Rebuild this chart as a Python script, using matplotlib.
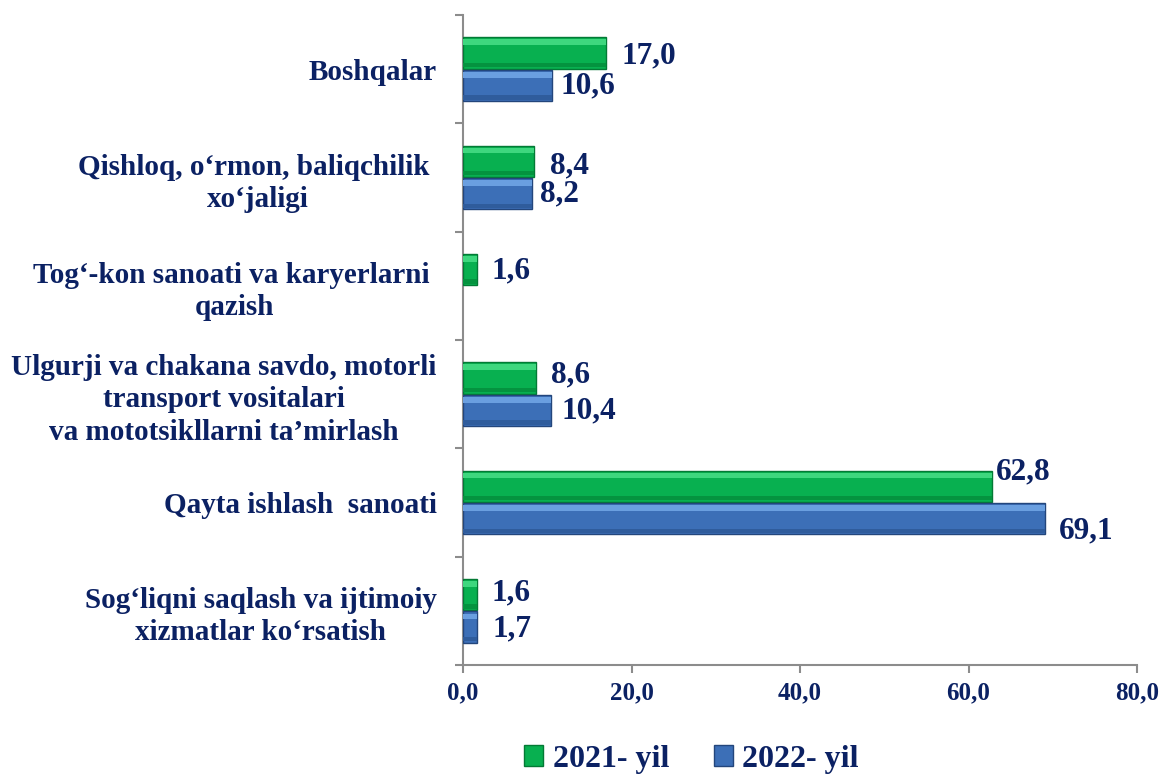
import numpy as np
import matplotlib
matplotlib.use("Agg")
import matplotlib.pyplot as plt
from matplotlib.patches import Patch

# data (bottom to top)
categories = [
    "Sog‘liqni saqlash va ijtimoiy\nxizmatlar ko‘rsatish",
    "Qayta ishlash  sanoati",
    "Ulgurji va chakana savdo, motorli\ntransport vositalari\nva mototsikllarni ta’mirlash",
    "Tog‘-kon sanoati va karyerlarni \nqazish",
    "Qishloq, o‘rmon, baliqchilik \nxo‘jaligi",
    "Boshqalar",
]
y2021 = [1.6, 62.8, 8.6, 1.6, 8.4, 17.0]
y2022 = [1.7, 69.1, 10.4, None, 8.2, 10.6]
series_names = ["2021- yil", "2022- yil"]
xticks = [0, 20, 40, 60, 80]

# style
navy = "#0B2163"
plt.rcParams["font.family"] = ["Liberation Serif", "DejaVu Serif"]
plt.rcParams["font.weight"] = "bold"

green = dict(main="#08B050", top="#3ED77E", bot="#04933F", edge="#037A35")
blue = dict(main="#3C6FB7", top="#6A9FE0", bot="#2F5C9C", edge="#23467C")

fig = plt.figure(figsize=(11.62, 7.78), dpi=100)
ax = fig.add_axes([0.3985, 0.1452, 0.58, 0.8355])

pos = np.arange(len(categories)) + 0.5
h = 0.29


def bevel_bars(ypos, vals, c):
    keep = [i for i, v in enumerate(vals) if v is not None]
    yy = ypos[keep]
    vv = np.array([vals[i] for i in keep], dtype=float)
    ax.barh(yy, vv, height=h, color=c["main"], edgecolor=c["edge"], linewidth=1.0, zorder=3)
    ax.barh(yy + h * 0.34, vv, height=h * 0.18, color=c["top"], linewidth=0, zorder=4)
    ax.barh(yy - h * 0.38, vv, height=h * 0.14, color=c["bot"], linewidth=0, zorder=4)


bevel_bars(pos + 0.15, y2021, green)
bevel_bars(pos - 0.15, y2022, blue)

# value labels (dx, dy offsets in points)
off21 = [(11, 1), (3, 10), (11, 2), (11, -1), (12, -3), (11, -2)]
off22 = [(11, -1), (10, -9), (8, 0), (0, 0), (6, 0), (6, 0)]
for i, v in enumerate(y2021):
    ax.annotate(f"{v:.1f}".replace(".", ","), (v, pos[i] + 0.15), xytext=off21[i],
                textcoords="offset points", ha="left", va="center",
                fontsize=22.5, color=navy, fontweight="bold", zorder=5)
for i, v in enumerate(y2022):
    if v is None:
        continue
    ax.annotate(f"{v:.1f}".replace(".", ","), (v, pos[i] - 0.15), xytext=off22[i],
                textcoords="offset points", ha="left", va="center",
                fontsize=22.5, color=navy, fontweight="bold", zorder=5)

# axes
ax.set_xlim(0, 80)
ax.set_ylim(0, 6)
ax.set_xticks(xticks)
ax.set_xticklabels([f"{t:.1f}".replace(".", ",") for t in xticks],
                   fontsize=18, color=navy, fontweight="bold")
ax.set_yticks(np.arange(0, 7))
ax.set_yticklabels([])
ax.set_yticks(pos, minor=True)
ax.set_yticklabels(categories, minor=True, fontsize=21, color=navy,
                   fontweight="bold", multialignment="center", linespacing=1.25)
ax.tick_params(axis="y", which="minor", length=0, pad=19)
ax.tick_params(axis="y", which="major", length=6, color="#8C8C8C", width=1.5)
ax.tick_params(axis="x", length=6, color="#8C8C8C", width=1.5, pad=6)
for s in ["top", "right"]:
    ax.spines[s].set_visible(False)
for s in ["left", "bottom"]:
    ax.spines[s].set_color("#8C8C8C")
    ax.spines[s].set_linewidth(1.5)

handles = [Patch(facecolor=green["main"], edgecolor=green["edge"]),
           Patch(facecolor=blue["main"], edgecolor=blue["edge"])]
fig.legend(handles, series_names, loc="center", bbox_to_anchor=(0.595, 0.024),
           ncol=2, frameon=False, handlelength=0.6, handleheight=0.6,
           handletextpad=0.3, columnspacing=1.4,
           prop=dict(family=["Liberation Serif"], weight="bold", size=23),
           labelcolor=navy)

fig.savefig("out.png", dpi=100)
